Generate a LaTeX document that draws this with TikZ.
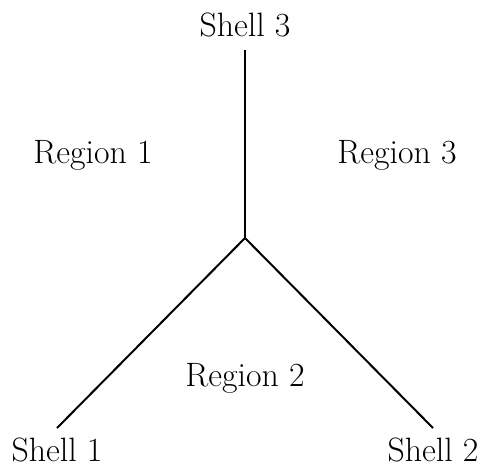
\documentclass[tikz,border=0pt]{standalone}
\begin{document}
\begin{tikzpicture}[x=0.5pt,y=-0.5pt,
  lbl/.style={font=\fontsize{16.9}{20}\selectfont, inner sep=0pt},
  wall/.style={line width=1pt}]
\useasboundingbox (0,0) rectangle (481,468);
% junction and shell ends
\coordinate (o) at (245,238);
\coordinate (t) at (245,50);
\coordinate (l) at (57,428);
\coordinate (r) at (433,428);
\draw[wall] (o) -- (t);
\draw[wall] (o) -- (l);
\draw[wall] (o) -- (r);
% labels
\node[lbl] (s3) at (245,25) {Shell 3};
\node[lbl] (s1) at (57,450) {Shell 1};
\node[lbl] (s2) at (433,450) {Shell 2};
\node[lbl] (r1) at (93,155) {Region 1};
\node[lbl] (r3) at (397,155) {Region 3};
\node[lbl] (r2) at (245,378) {Region 2};
\end{tikzpicture}
\end{document}
